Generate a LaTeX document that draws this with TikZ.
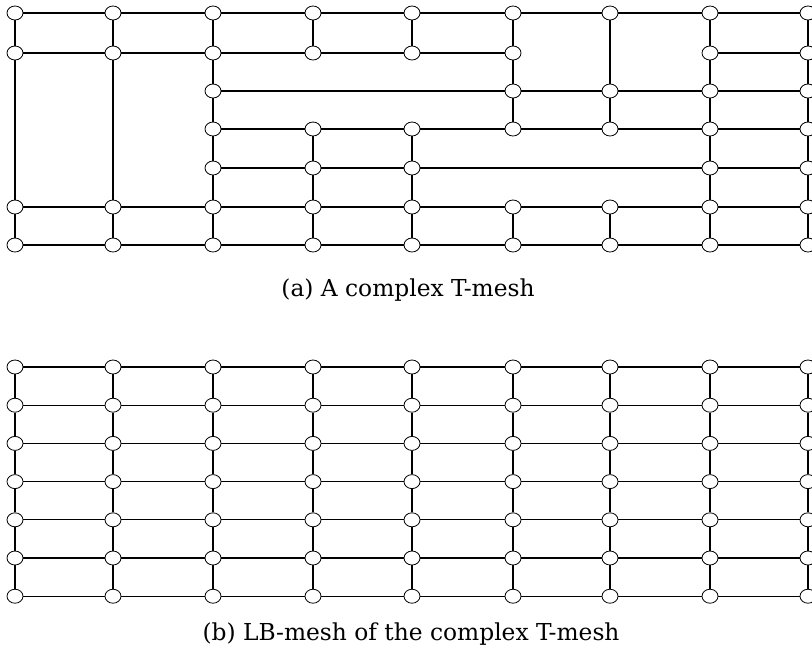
\documentclass[tikz,border=0pt]{standalone}
\usepackage{fontspec}
\setmainfont{DejaVu Serif}
\usetikzlibrary{shapes.geometric}

\tikzset{
  vtx/.style={ellipse,draw,fill=white,line width=0.6pt,minimum width=12pt,minimum height=10.5pt,inner sep=0pt},
  edge/.style={line width=1pt},
  caption/.style={font=\fontsize{17.5}{21}\selectfont},
}

\def\colx{{15,113,213,313,412,513,610,710,808}}

\begin{document}
\begin{tikzpicture}[x=0.75pt,y=-0.75pt]
\useasboundingbox (0,0) rectangle (812,651);

% (a) the T-mesh
\foreach \r/\y/\cols in {0/13/{0,1,2,3,4,5,6,7,8},1/53/{0,1,2,3,4,5,7,8},2/91/{2,5,6,7,8},
    3/129/{2,3,4,5,6,7,8},4/168/{2,3,4,7,8},5/207/{0,1,2,3,4,5,6,7,8},6/245/{0,1,2,3,4,5,6,7,8}}
  \foreach \c in \cols {
    \pgfmathsetmacro\xx{\colx[\c]}
    \node[vtx] (t\r\c) at (\xx,\y) {};
  }

\foreach \r/\a/\b in {0/0/1,0/1/2,0/2/3,0/3/4,0/4/5,0/5/6,0/6/7,0/7/8,
    1/0/1,1/1/2,1/2/3,1/3/4,1/4/5,1/7/8,
    2/2/5,2/5/6,2/6/7,2/7/8,
    3/2/3,3/3/4,3/4/5,3/5/6,3/6/7,3/7/8,
    4/2/3,4/3/4,4/4/7,4/7/8,
    5/0/1,5/1/2,5/2/3,5/3/4,5/4/5,5/5/6,5/6/7,5/7/8,
    6/0/1,6/1/2,6/2/3,6/3/4,6/4/5,6/5/6,6/6/7,6/7/8}
  \draw[edge] (t\r\a) -- (t\r\b);

\foreach \c/\a/\b in {0/0/1,0/1/5,0/5/6, 1/0/1,1/1/5,1/5/6,
    2/0/1,2/1/2,2/2/3,2/3/4,2/4/5,2/5/6,
    3/0/1,3/3/4,3/4/5,3/5/6, 4/0/1,4/3/4,4/4/5,4/5/6,
    5/0/1,5/1/2,5/2/3,5/5/6, 6/0/2,6/2/3,6/5/6,
    7/0/1,7/1/2,7/2/3,7/3/4,7/4/5,7/5/6,
    8/0/1,8/1/2,8/2/3,8/3/4,8/4/5,8/5/6}
  \draw[edge] (t\a\c) -- (t\b\c);

\node[caption] (capa) at (408,290) {(a) A complex T-mesh};

% (b) the LB-mesh
\foreach \r in {0,...,6}
  \foreach \c in {0,...,8} {
    \pgfmathsetmacro\xx{\colx[\c]}
    \pgfmathsetmacro\yy{367+38.2*\r}
    \node[vtx] (b\r\c) at (\xx,\yy) {};
  }
\foreach \r in {0,...,6}
  \foreach \c in {0,...,7} {
    \pgfmathtruncatemacro\nc{\c+1}
    \draw[edge] (b\r\c) -- (b\r\nc);
  }
\foreach \c in {0,...,8}
  \foreach \r in {0,...,5} {
    \pgfmathtruncatemacro\nr{\r+1}
    \draw[edge] (b\r\c) -- (b\nr\c);
  }

\node[caption] (capb) at (411,634) {(b) LB-mesh of the complex T-mesh};
\end{tikzpicture}
\end{document}
